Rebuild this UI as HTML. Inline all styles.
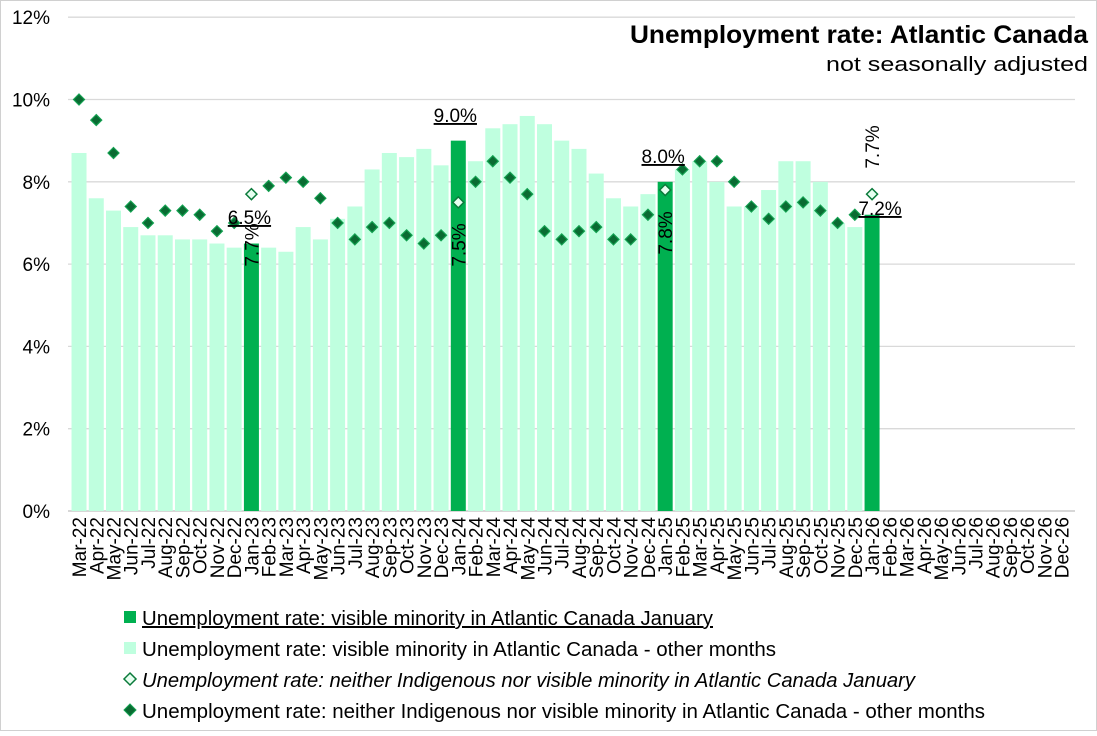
<!DOCTYPE html>
<html><head><meta charset="utf-8"><style>
body{margin:0;background:#fff;}
svg{font-family:"Liberation Sans",sans-serif;}
</style></head><body>
<svg id="s" width="1097" height="731" xmlns="http://www.w3.org/2000/svg">
<rect x="0.5" y="0.5" width="1096" height="730" fill="#fff" stroke="#d0d0d0"/>
<g id="g"></g>
</svg>
<script>
const g=document.getElementById('g');
let h='';
const x0=70.4,n=58,cw=17.24,x1=x0+n*cw,y0=511,pp=41.15;
const Y=v=>y0-v*pp;
for(let i=0;i<=6;i++){const y=Y(i*2);
 h+=`<line x1="68" x2="1075" y1="${y}" y2="${y}" stroke="${i==0?'#bfbfbf':'#d9d9d9'}" stroke-width="1.3"/>`;
 h+=`<text x="50" y="${y+7}" font-size="19" text-anchor="end" fill="#000">${i*2}%</text>`;}
const bars=[8.7,7.6,7.3,6.9,6.7,6.7,6.6,6.6,6.5,6.4,6.5,6.4,6.3,6.9,6.6,7.1,7.4,8.3,8.7,8.6,8.8,8.4,9.0,8.5,9.3,9.4,9.6,9.4,9.0,8.8,8.2,7.6,7.4,7.7,8.0,8.3,8.5,8.0,7.4,7.4,7.8,8.5,8.5,8.0,7.0,6.9,7.2];
const dia=[10.0,9.5,8.7,7.4,7.0,7.3,7.3,7.2,6.8,7.0,7.7,7.9,8.1,8.0,7.6,7.0,6.6,6.9,7.0,6.7,6.5,6.7,7.5,8.0,8.5,8.1,7.7,6.8,6.6,6.8,6.9,6.6,6.6,7.2,7.8,8.3,8.5,8.5,8.0,7.4,7.1,7.4,7.5,7.3,7.0,7.2,7.7];
const jan=i=>(i-10)%12==0;
const cx=i=>x0+cw*(i+0.5);
bars.forEach((v,i)=>{h+=`<rect x="${cx(i)-7.5}" y="${Y(v)}" width="15" height="${v*pp}" fill="${jan(i)?'#00b050':'#bfffdf'}"/>`;});
dia.forEach((v,i)=>{const x=cx(i),y=Y(v),r=5.5;
 h+=jan(i)?`<polygon points="${x},${y-r} ${x+r},${y} ${x},${y+r} ${x-r},${y}" fill="#e6fff0" stroke="#0a7a3a" stroke-width="1.5"/>`
 :`<polygon points="${x},${y-r} ${x+r},${y} ${x},${y+r} ${x-r},${y}" fill="#0a6b32" stroke="#12a050" stroke-width="1.2"/>`;});
const m=['Jan','Feb','Mar','Apr','May','Jun','Jul','Aug','Sep','Oct','Nov','Dec'];
for(let i=0;i<n;i++){const mi=(i+2)%12,yr=22+Math.floor((i+2)/12);
 h+=`<text transform="translate(${cx(i)+7},517) rotate(-90)" font-size="19" text-anchor="end">${m[mi]}-${yr}</text>`;}
function lab(x,y,t){h+=`<text x="${x}" y="${y}" font-size="19" text-anchor="middle" text-decoration="underline">${t}</text>`;}
function rl(x,y,t){h+=`<text transform="translate(${x+7},${y}) rotate(-90)" font-size="19" text-anchor="middle">${t}</text>`;}
lab(cx(10)-2,224,'6.5%');rl(cx(10),245,'7.7%');
lab(cx(22)-3,122,'9.0%');rl(cx(22),245,'7.5%');
lab(cx(34)-2,163,'8.0%');rl(cx(34),233,'7.8%');
lab(cx(46)+8,215,'7.2%');rl(cx(46),147,'7.7%');
h+=`<text x="1088" y="43" font-size="25" font-weight="bold" text-anchor="end" textLength="458" lengthAdjust="spacingAndGlyphs">Unemployment rate: Atlantic Canada</text>`;
h+=`<text x="1088" y="71" font-size="20" text-anchor="end" textLength="262" lengthAdjust="spacingAndGlyphs">not seasonally adjusted</text>`;
const L=[['bar','#00b050','Unemployment rate: visible minority in Atlantic Canada January',0,1,571],
['bar','#bfffdf','Unemployment rate: visible minority in Atlantic Canada - other months',0,0,634],
['d','o','Unemployment rate: neither Indigenous nor visible minority in Atlantic Canada January',1,0,773],
['d','f','Unemployment rate: neither Indigenous nor visible minority in Atlantic Canada - other months',0,0,843]];
L.forEach((l,k)=>{const y=619+k*31;
 if(l[0]=='bar')h+=`<rect x="124" y="${y-8}" width="12" height="12" fill="${l[1]}"/>`;
 else h+=l[1]=='o'?`<polygon points="130,${y-8} 136,${y-2} 130,${y+4} 124,${y-2}" fill="#e6fff0" stroke="#0a7a3a" stroke-width="1.5"/>`:`<polygon points="130,${y-8} 136,${y-2} 130,${y+4} 124,${y-2}" fill="#0a6b32" stroke="#12a050"/>`;
 h+=`<text x="142" y="${y+6}" font-size="20" ${l[3]?'font-style="italic"':''} ${l[4]?'text-decoration="underline"':''} textLength="${l[5]}" lengthAdjust="spacingAndGlyphs">${l[2]}</text>`;});
g.innerHTML=h;
</script>
</body></html>
